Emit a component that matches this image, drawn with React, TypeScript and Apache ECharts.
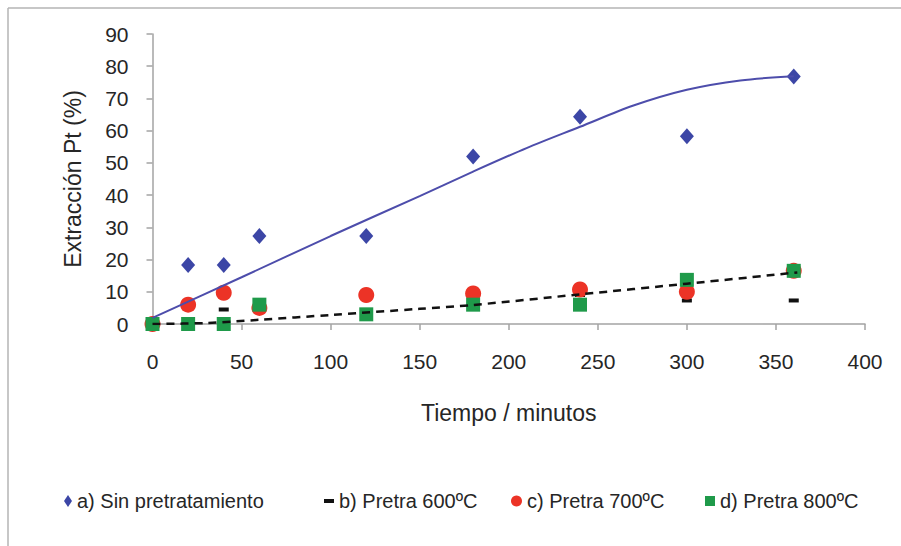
import React, { useEffect, useRef } from "react";
import * as echarts from "echarts";

// Extraction time in minutes
const tiempos = [0, 20, 40, 60, 120, 180, 240, 300, 360];

// Pt extraction (%) per pretreatment
const sinPretratamiento = [0, 18.3, 18.3, 27.3, 27.3, 52, 64.3, 58.3, 76.8];
const pretra600 = [0, 0, 4.5, 5, 4, 6.5, 9, 7.3, 7.3];
const pretra700 = [0, 6, 9.7, 5, 9, 9.5, 10.7, 10, 16.5];
const pretra800 = [0, 0, 0, 6, 3, 6, 6, 13.7, 16.5];

// Trend lines (time, %)
const tendenciaTiempos = [0, 50, 100, 150, 180, 210, 240, 270, 300, 330, 360];
const tendenciaSinPretra = [1.9, 14.5, 27.3, 39.7, 47.3, 54.6, 61.2, 67.8, 72.7, 75.6, 76.9];
const tendenciaPretraTiempos = [0, 30, 60, 100, 150, 180, 240, 300, 362];
const tendenciaPretra = [0, 0.3, 1.3, 2.8, 4.7, 5.9, 9.2, 12.5, 16];

const xTicks = { min: 0, max: 400, interval: 50 };
const yTicks = { min: 0, max: 90, interval: 10 };

const FONT = "'Liberation Sans', Arial, Helvetica, sans-serif";
const TEXT = "#262626";
const AXIS = "#a3a3a3";

const zip = (xs: number[], ys: number[]) => xs.map((x, i) => [x, ys[i]]);

const legendItem = (name: string, icon: string, left: number, w: number, h: number) => ({
  left,
  top: 491,
  padding: 0,
  itemWidth: w,
  itemHeight: h,
  data: [{ name, icon }],
  textStyle: { fontFamily: FONT, fontSize: 20, color: TEXT },
  selectedMode: false,
});

export default function App() {
  const ref = useRef<HTMLDivElement>(null);

  useEffect(() => {
    if (!ref.current) return;
    const chart = echarts.init(ref.current, null, { renderer: "svg" });
    chart.setOption({
      animation: false,
      backgroundColor: "#ffffff",
      grid: { left: 152.5, right: 36, top: 34, bottom: 222 },
      xAxis: {
        type: "value",
        ...xTicks,
        axisLine: { show: true, lineStyle: { color: AXIS, width: 1.5 } },
        axisTick: { show: true, length: 6, lineStyle: { color: AXIS, width: 1.5 } },
        splitLine: { show: false },
        axisLabel: { fontFamily: FONT, fontSize: 21, color: TEXT, margin: 27 },
        name: "Tiempo / minutos",
        nameLocation: "middle",
        nameGap: 77,
        nameTextStyle: { fontFamily: FONT, fontSize: 23, color: TEXT },
      },
      yAxis: {
        type: "value",
        ...yTicks,
        axisLine: { show: true, lineStyle: { color: AXIS, width: 1.5 } },
        axisTick: { show: true, length: 6, lineStyle: { color: AXIS, width: 1.5 } },
        splitLine: { show: false },
        axisLabel: { fontFamily: FONT, fontSize: 21, color: TEXT, margin: 24 },
        name: "Extracción Pt (%)",
        nameLocation: "middle",
        nameGap: 68,
        nameRotate: 90,
        nameTextStyle: { fontFamily: FONT, fontSize: 23, color: TEXT },
      },
      legend: [
        legendItem("a) Sin pretratamiento", "diamond", 64, 8, 12),
        legendItem("b) Pretra 600ºC", "rect", 324, 10, 4),
        legendItem("c) Pretra 700ºC", "circle", 511, 11, 11),
        legendItem("d) Pretra 800ºC", "rect", 705, 10, 10),
      ],
      graphic: [
        { type: "line", shape: { x1: 8, y1: 8, x2: 901, y2: 8 }, style: { stroke: "#b5b5b5", lineWidth: 1.5 } },
        { type: "line", shape: { x1: 8, y1: 8, x2: 8, y2: 546 }, style: { stroke: "#b5b5b5", lineWidth: 1.5 } },
      ],
      series: [
        {
          name: "a) Sin pretratamiento",
          type: "scatter",
          symbol: "diamond",
          symbolSize: [14, 16],
          itemStyle: { color: "#3c46a6", opacity: 1 },
          data: zip(tiempos, sinPretratamiento),
          z: 2,
        },
        {
          name: "b) Pretra 600ºC",
          type: "scatter",
          symbol: "rect",
          symbolSize: [10, 4],
          itemStyle: { color: "#111111", opacity: 1 },
          data: zip(tiempos, pretra600),
          z: 2,
        },
        {
          name: "c) Pretra 700ºC",
          type: "scatter",
          symbol: "circle",
          symbolSize: 16,
          itemStyle: { color: "#ec3326", opacity: 1 },
          data: zip(tiempos, pretra700),
          z: 2,
        },
        {
          name: "d) Pretra 800ºC",
          type: "scatter",
          symbol: "rect",
          symbolSize: 14,
          itemStyle: { color: "#1f9a4a", opacity: 1 },
          data: zip(tiempos, pretra800),
          z: 2,
        },
        {
          name: "tendencia a",
          type: "line",
          showSymbol: false,
          silent: true,
          smooth: 0.3,
          lineStyle: { color: "#4d4dab", width: 2 },
          data: zip(tendenciaTiempos, tendenciaSinPretra),
          z: 4,
        },
        {
          name: "tendencia b-d",
          type: "line",
          showSymbol: false,
          silent: true,
          smooth: 0.3,
          lineStyle: { color: "#111111", width: 2.5, type: [8, 6] },
          data: zip(tendenciaPretraTiempos, tendenciaPretra),
          z: 4,
        },
      ],
    });
    return () => chart.dispose();
  }, []);

  return (
    <div
      ref={ref}
      style={{ position: "absolute", left: 0, top: 0, width: 901, height: 546 }}
    />
  );
}
